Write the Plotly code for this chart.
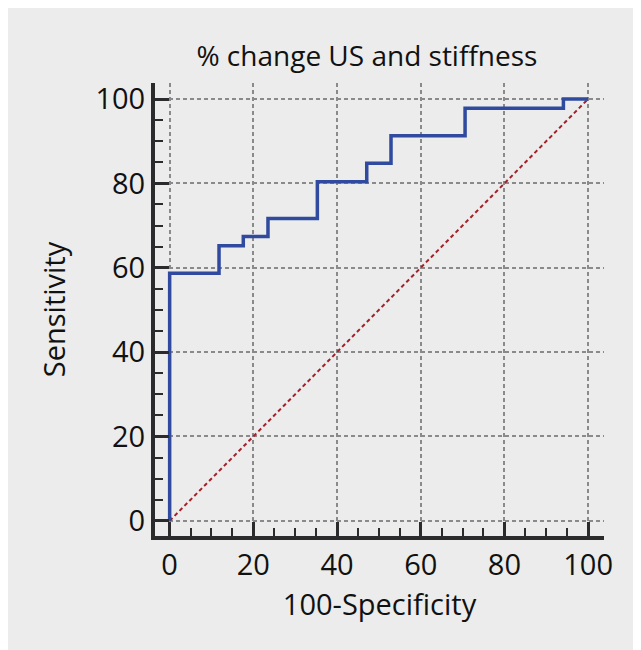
import plotly.graph_objects as go

# ROC step curve (100-Specificity vs Sensitivity)
fpr = [0, 0, 11.8, 11.8, 17.6, 17.6, 23.5, 23.5, 35.3, 35.3, 47.1, 47.1, 52.9, 52.9, 70.6, 70.6, 94.1, 94.1, 100]
tpr = [0, 58.7, 58.7, 65.2, 65.2, 67.4, 67.4, 71.7, 71.7, 80.4, 80.4, 84.8, 84.8, 91.3, 91.3, 97.8, 97.8, 100, 100]
diag_x = [0, 100]
diag_y = [0, 100]
tick_vals = [0, 20, 40, 60, 80, 100]
tick_text = ["0", "20", "40", "60", "80", "100"]

FONT = "Open Sans"
AX = "#2b2b2d"
GRID = "#8a8a8a"

fig = go.Figure()
fig.add_trace(go.Scatter(x=diag_x, y=diag_y, mode="lines",
                         line=dict(color="#a3202a", width=2, dash="4px,3px"),
                         hoverinfo="skip", showlegend=False))
fig.add_trace(go.Scatter(x=fpr, y=tpr, mode="lines",
                         line=dict(color="#2f4a9e", width=3.5),
                         showlegend=False))

axis_common = dict(
    showline=True, linecolor=AX, linewidth=4,
    ticks="inside", ticklen=14, tickwidth=3, tickcolor=AX,
    tickvals=tick_vals, ticktext=tick_text,
    showgrid=True, gridcolor=GRID, gridwidth=1.6, griddash="4px,3px",
    zeroline=False,
    tickfont=dict(family=FONT, size=29, color="#111111"),
    title_font=dict(family=FONT, size=29, color="#111111"),
    minor=dict(ticks="inside", ticklen=8, tickwidth=2, tickcolor=AX, dtick=5, tick0=0, showgrid=False),
)

fig.update_xaxes(range=[-3.5, 103.8], title_text="100-Specificity", title_standoff=14, **axis_common)
fig.update_yaxes(range=[-3.6, 103.8], title_text="Sensitivity", title_standoff=22, **axis_common)

fig.update_layout(
    width=633, height=642,
    margin=dict(l=147, r=37, t=75, b=114, pad=0),
    paper_bgcolor="#ebeceb", plot_bgcolor="#ebeceb",
    title=dict(text="% change US and stiffness", x=0.567, xanchor="center",
               y=0.925, yanchor="middle", xref="container", yref="container",
               font=dict(family=FONT, size=28, color="#111111")),
    font=dict(family=FONT),
)

fig.write_html("out.html")
